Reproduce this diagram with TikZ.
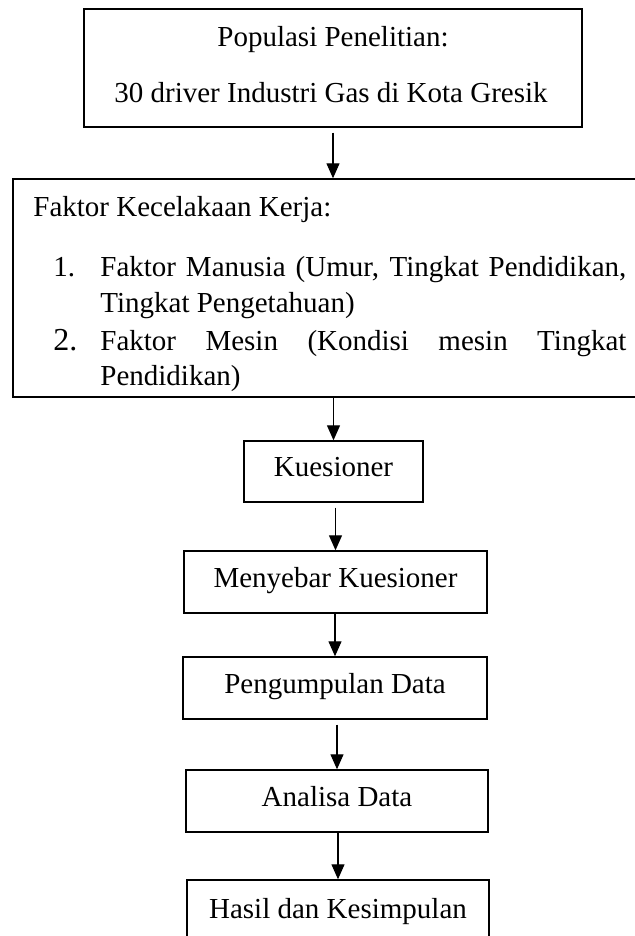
\documentclass[tikz,border=0pt]{standalone}
\usepackage{fontspec}
\setmainfont{Liberation Serif}
\usetikzlibrary{arrows.meta}
\begin{document}
\begin{tikzpicture}[x=0.5pt,y=-0.5pt,
  every node/.style={font=\fontsize{14.5}{17}\selectfont},
  boxframe/.style={draw, line width=0.7pt, inner sep=0pt, rectangle},
  flowbox/.style={boxframe, text height=0.75em, text depth=0.25em},
  txt/.style={inner sep=0pt, anchor=base west},
  arr/.style={line width=0.6pt, -{Triangle[width=6.5pt,length=7.5pt]}}
]
\useasboundingbox (0,0) rectangle (635,936);

% Box 1
\node[boxframe, minimum width=249pt, minimum height=59pt] (b1) at (333,68) {};
\node[inner sep=0pt, anchor=base] (p1) at (333,47) {Populasi Penelitian:};
\node[inner sep=0pt, anchor=base] (p2) at (331,103) {30 driver Industri Gas di Kota Gresik};

% Box 2 (right side extends past the picture)
\node[boxframe, minimum width=316pt, minimum height=109pt] (b2) at (329,288) {};
\node[txt] (f0) at (33,217) {Faktor Kecelakaan Kerja:};
\node[txt] (n1) at (53,277) {1.};
\node[txt] (l1a) at (100,277) {\makebox[263pt][s]{Faktor Manusia (Umur, Tingkat Pendidikan,}};
\node[txt] (l1b) at (100,312) {Tingkat Pengetahuan)};
\node[txt, font=\fontsize{16}{18}\selectfont] (n2) at (53,350) {2.};
\node[txt] (l2a) at (100,350) {\makebox[263pt][s]{Faktor Mesin (Kondisi mesin Tingkat}};
\node[txt] (l2b) at (100,385) {Pendidikan)};

% Flow boxes
\node[flowbox, minimum width=89.5pt, minimum height=30.5pt] (kues) at (333.5,471.5) {Kuesioner};
\node[flowbox, minimum width=151.5pt, minimum height=31pt] (meny) at (335.5,582) {Menyebar Kuesioner};
\node[flowbox, minimum width=152pt, minimum height=31pt] (peng) at (335,688) {Pengumpulan Data};
\node[flowbox, minimum width=151pt, minimum height=31pt] (anal) at (337,801) {Analisa Data};
\node[flowbox, minimum width=151pt, minimum height=33pt] (hasil) at (338,913) {Hasil dan Kesimpulan};

% Arrows
\draw[arr] ([yshift=-2.5pt]b1.south) -- (b1.south |- b2.north);
\draw[arr] (kues.north |- b2.south) -- (kues.north);
\draw[arr] ([yshift=-2.5pt]meny.north |- kues.south) -- (meny.north);
\draw[arr] (peng.north |- meny.south) -- (peng.north);
\draw[arr] ([yshift=-2.5pt]anal.north |- peng.south) -- (anal.north);
\draw[arr] (hasil.north |- anal.south) -- (hasil.north);
\end{tikzpicture}
\end{document}
